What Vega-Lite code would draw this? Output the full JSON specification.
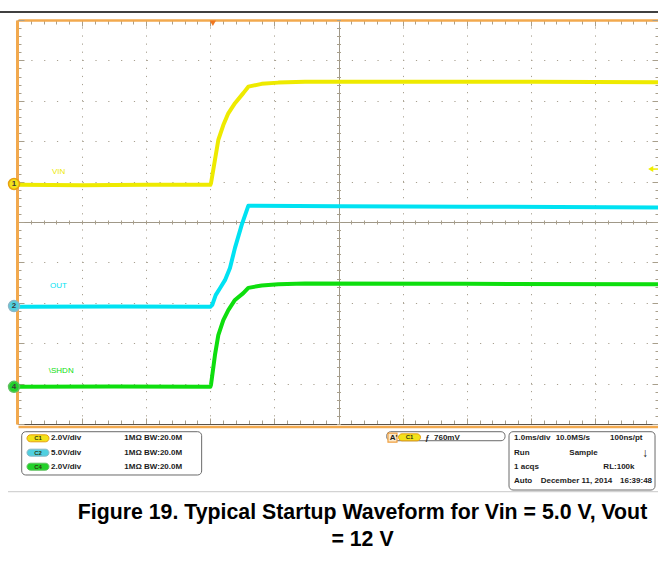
{
  "$schema": "https://vega.github.io/schema/vega-lite/v6.json",
  "width": 641,
  "height": 404,
  "autosize": "none",
  "padding": {"left": 18, "top": 20, "right": 0, "bottom": 138},
  "background": "white",
  "config": {"view": {"stroke": null}, "font": "Liberation Sans"},
  "title": {
    "text": ["Figure 19. Typical Startup Waveform for Vin = 5.0 V, Vout", "= 12 V"],
    "orient": "bottom",
    "anchor": "middle",
    "offset": 10,
    "dx": 24,
    "font": "Liberation Sans",
    "fontSize": 21.3,
    "fontWeight": "bold",
    "color": "#000000",
    "lineHeight": 27
  },
  "datasets": {
    "traces": [
      {"ch": "VIN", "t": -3, "level": 5.92}, {"ch": "VIN", "t": -2, "level": 5.91}, {"ch": "VIN", "t": -1, "level": 5.92},
      {"ch": "VIN", "t": 0, "level": 5.92}, {"ch": "VIN", "t": 0.011, "level": 5.96}, {"ch": "VIN", "t": 0.073, "level": 6.54},
      {"ch": "VIN", "t": 0.125, "level": 7.03}, {"ch": "VIN", "t": 0.203, "level": 7.40}, {"ch": "VIN", "t": 0.281, "level": 7.69},
      {"ch": "VIN", "t": 0.385, "level": 7.94}, {"ch": "VIN", "t": 0.515, "level": 8.19}, {"ch": "VIN", "t": 0.593, "level": 8.35},
      {"ch": "VIN", "t": 0.802, "level": 8.42}, {"ch": "VIN", "t": 1.061, "level": 8.45}, {"ch": "VIN", "t": 1.477, "level": 8.47},
      {"ch": "VIN", "t": 3, "level": 8.47}, {"ch": "VIN", "t": 5, "level": 8.47}, {"ch": "VIN", "t": 7, "level": 8.46},
      {"ch": "OUT", "t": -3, "level": 2.90}, {"ch": "OUT", "t": -1.5, "level": 2.91}, {"ch": "OUT", "t": 0, "level": 2.90},
      {"ch": "OUT", "t": 0.031, "level": 2.95}, {"ch": "OUT", "t": 0.084, "level": 3.19}, {"ch": "OUT", "t": 0.151, "level": 3.36},
      {"ch": "OUT", "t": 0.229, "level": 3.56}, {"ch": "OUT", "t": 0.307, "level": 3.86}, {"ch": "OUT", "t": 0.385, "level": 4.36},
      {"ch": "OUT", "t": 0.49, "level": 4.93}, {"ch": "OUT", "t": 0.593, "level": 5.40}, {"ch": "OUT", "t": 0.65, "level": 5.40},
      {"ch": "OUT", "t": 2, "level": 5.39}, {"ch": "OUT", "t": 4, "level": 5.38}, {"ch": "OUT", "t": 7, "level": 5.36},
      {"ch": "SHDN", "t": -3, "level": 0.92}, {"ch": "SHDN", "t": -1.5, "level": 0.93}, {"ch": "SHDN", "t": 0, "level": 0.92},
      {"ch": "SHDN", "t": 0.011, "level": 0.97}, {"ch": "SHDN", "t": 0.073, "level": 1.71}, {"ch": "SHDN", "t": 0.125, "level": 2.20},
      {"ch": "SHDN", "t": 0.203, "level": 2.57}, {"ch": "SHDN", "t": 0.281, "level": 2.82}, {"ch": "SHDN", "t": 0.385, "level": 3.07},
      {"ch": "SHDN", "t": 0.515, "level": 3.24}, {"ch": "SHDN", "t": 0.593, "level": 3.37}, {"ch": "SHDN", "t": 0.802, "level": 3.43},
      {"ch": "SHDN", "t": 1.061, "level": 3.46}, {"ch": "SHDN", "t": 1.477, "level": 3.48}, {"ch": "SHDN", "t": 4, "level": 3.47},
      {"ch": "SHDN", "t": 7, "level": 3.46}
    ],
    "channels": [
      {"ch": "VIN", "num": "1", "ground": 5.94, "label": "VIN", "lt": -2.47, "ll": 6.24},
      {"ch": "OUT", "num": "2", "ground": 2.92, "label": "OUT", "lt": -2.50, "ll": 3.42},
      {"ch": "SHDN", "num": "4", "ground": 0.92, "label": "\\SHDN", "lt": -2.52, "ll": 1.31}
    ],
    "boxes": [
      {"t1": -2.942, "t2": -0.135, "l1": -0.191, "l2": -1.262},
      {"t1": 2.752, "t2": 4.598, "l1": -0.191, "l2": -0.414},
      {"t1": 4.660, "t2": 6.938, "l1": -0.191, "l2": -1.634}
    ],
    "pills": [
      {"name": "C1", "ch": "VIN", "t": -2.688, "level": -0.354},
      {"name": "C2", "ch": "OUT", "t": -2.688, "level": -0.710},
      {"name": "C4", "ch": "SHDN", "t": -2.688, "level": -1.057},
      {"name": "C1", "ch": "VIN", "t": 3.108, "level": -0.33}
    ],
    "info": [
      {"text": "2.0V/div", "t": -2.485, "level": -0.354},
      {"text": "5.0V/div", "t": -2.485, "level": -0.710},
      {"text": "2.0V/div", "t": -2.485, "level": -1.057},
      {"text": "1MΩ BW:20.0M", "t": -1.342, "level": -0.354},
      {"text": "1MΩ BW:20.0M", "t": -1.342, "level": -0.710},
      {"text": "1MΩ BW:20.0M", "t": -1.342, "level": -1.057},
      {"text": "A'", "t": 2.80, "level": -0.339},
      {"text": "ƒ", "t": 3.349, "level": -0.339},
      {"text": "760mV", "t": 3.49, "level": -0.339},
      {"text": "1.0ms/div", "t": 4.738, "level": -0.354},
      {"text": "10.0MS/s", "t": 5.388, "level": -0.354},
      {"text": "100ns/pt", "t": 6.236, "level": -0.354},
      {"text": "Run", "t": 4.738, "level": -0.725},
      {"text": "Sample", "t": 5.601, "level": -0.725},
      {"text": "1 acqs", "t": 4.738, "level": -1.057},
      {"text": "RL:100k", "t": 6.132, "level": -1.057},
      {"text": "Auto", "t": 4.738, "level": -1.411},
      {"text": "December 11, 2014", "t": 5.154, "level": -1.411},
      {"text": "16:39:48", "t": 6.392, "level": -1.411}
    ]
  },
  "resolve": {"axis": {"x": "independent", "y": "independent"}},
  "layer": [
    {
      "data": {"name": "traces"},
      "mark": {"type": "line", "strokeWidth": 4, "strokeJoin": "round"},
      "encoding": {
        "x": {
          "field": "t", "type": "quantitative",
          "scale": {"domain": [-3, 7], "nice": false, "zero": false},
          "axis": {
            "orient": "top", "title": null, "labels": false, "tickCount": 50,
            "domain": true, "domainColor": "#f2a94e", "domainWidth": 2.5,
            "tickColor": "#a89f8c", "tickWidth": 1,
            "tickSize": {"condition": {"test": "abs(datum.value - round(datum.value)) < 0.01", "value": -6}, "value": -4},
            "grid": true, "gridColor": "#a8a090", "gridWidth": 1, "gridDash": [1.2, 6.88],
            "gridOpacity": {"condition": {"test": "abs(datum.value - round(datum.value)) < 0.01", "value": 1}, "value": 0}
          }
        },
        "y": {
          "field": "level", "type": "quantitative",
          "scale": {"domain": [0, 10], "nice": false, "zero": false},
          "axis": {
            "orient": "left", "offset": 1, "title": null, "labels": false, "tickCount": 50,
            "domain": true, "domainColor": "#f2a94e", "domainWidth": 3,
            "tickColor": "#a89f8c", "tickWidth": 1,
            "tickSize": {"condition": {"test": "abs(datum.value - round(datum.value)) < 0.01", "value": -7}, "value": -4},
            "grid": true, "gridColor": "#a8a090", "gridWidth": 1, "gridDash": [1.2, 11.62],
            "gridOpacity": {"condition": {"test": "abs(datum.value - round(datum.value)) < 0.01", "value": 1}, "value": 0}
          }
        },
        "color": {
          "field": "ch", "type": "nominal",
          "scale": {"domain": ["VIN", "OUT", "SHDN"], "range": ["#eeea00", "#00e2f2", "#0ede0e"]},
          "legend": null
        }
      }
    },
    {
      "data": {"name": "channels"},
      "mark": {"type": "text", "fontSize": 8, "align": "left", "baseline": "middle", "font": "Liberation Sans"},
      "encoding": {
        "x": {
          "field": "lt", "type": "quantitative",
          "axis": {
            "orient": "bottom", "offset": -204, "title": null, "labels": false, "tickCount": 50,
            "domain": false, "tickColor": "#a89f8c", "tickWidth": 1, "tickSize": 4,
            "grid": true, "gridColor": "#a09888", "gridWidth": 1,
            "gridOpacity": {"condition": {"test": "abs(datum.value - 2) < 0.01", "value": 1}, "value": 0}
          }
        },
        "y": {
          "field": "ll", "type": "quantitative",
          "axis": {
            "orient": "left", "offset": -322.5, "title": null, "labels": false, "tickCount": 50,
            "domain": false, "tickColor": "#a89f8c", "tickWidth": 1, "tickSize": 4,
            "grid": true, "gridColor": "#a09888", "gridWidth": 1,
            "gridOpacity": {"condition": {"test": "abs(datum.value - 5) < 0.01", "value": 1}, "value": 0}
          }
        },
        "text": {"field": "label"},
        "color": {"field": "ch", "type": "nominal", "legend": null}
      }
    },
    {
      "data": {"name": "channels"},
      "mark": {"type": "point", "shape": "circle", "filled": true, "size": 120, "strokeWidth": 1.5, "opacity": 1},
      "encoding": {
        "x": {
          "datum": -3.062, "type": "quantitative",
          "axis": {
            "orient": "bottom", "title": null, "labels": false, "tickCount": 50,
            "domain": true, "domainColor": "#5a5248", "domainWidth": 1.2,
            "tickColor": "#a89f8c", "tickWidth": 1,
            "tickSize": {"condition": {"test": "abs(datum.value - round(datum.value)) < 0.01", "value": -6}, "value": -4},
            "grid": false
          }
        },
        "y": {
          "field": "ground", "type": "quantitative",
          "axis": {
            "orient": "right", "title": null, "labels": false, "tickCount": 50,
            "domain": false, "tickColor": "#a89f8c", "tickWidth": 1,
            "tickSize": {"condition": {"test": "abs(datum.value - round(datum.value)) < 0.01", "value": -7}, "value": -4},
            "grid": false
          }
        },
        "fill": {
          "field": "ch", "type": "nominal",
          "scale": {"domain": ["VIN", "OUT", "SHDN"], "range": ["#f2e21a", "#4fd0e0", "#22d22a"]},
          "legend": null
        },
        "stroke": {
          "field": "ch", "type": "nominal",
          "scale": {"domain": ["VIN", "OUT", "SHDN"], "range": ["#e8a010", "#8ab8c8", "#60c060"]},
          "legend": null
        }
      }
    },
    {
      "data": {"name": "channels"},
      "mark": {"type": "text", "fontSize": 8, "fontWeight": "bold", "align": "center", "baseline": "middle", "color": "#3a3a3a"},
      "encoding": {
        "x": {
          "datum": -3.062, "type": "quantitative",
          "axis": {
            "orient": "bottom", "offset": 2.5, "title": null, "labels": false, "ticks": false,
            "domain": true, "domainColor": "#f2a94e", "domainWidth": 2.5, "grid": false
          }
        },
        "y": {"field": "ground", "type": "quantitative", "axis": null},
        "text": {"field": "num"}
      }
    },
    {
      "data": {"values": [{}]},
      "mark": {"type": "point", "shape": "triangle-down", "filled": true, "color": "#f07820", "size": 40, "opacity": 1},
      "encoding": {
        "x": {"datum": 0.04, "type": "quantitative", "axis": null},
        "y": {"datum": 9.92, "type": "quantitative", "axis": null}
      }
    },
    {
      "data": {"values": [{}]},
      "mark": {"type": "point", "shape": "triangle-left", "filled": true, "color": "#f0ee00", "size": 35, "opacity": 1},
      "encoding": {
        "x": {"datum": 6.87, "type": "quantitative", "axis": null},
        "y": {"datum": 6.31, "type": "quantitative", "axis": null}
      }
    },
    {
      "data": {"values": [{}]},
      "mark": {"type": "rule", "color": "#f0ee00", "strokeWidth": 1.5},
      "encoding": {
        "x": {"datum": 6.9, "type": "quantitative", "axis": null},
        "x2": {"datum": 7.0},
        "y": {"datum": 6.31, "type": "quantitative", "axis": null}
      }
    },
    {
      "data": {"values": [{}]},
      "mark": {"type": "rule", "color": "#000000", "strokeWidth": 1.5},
      "encoding": {
        "x": {"datum": -3.281, "type": "quantitative", "axis": null},
        "x2": {"datum": 7.0},
        "y": {"datum": 10.198, "type": "quantitative", "axis": null}
      }
    },
    {
      "data": {"values": [{}]},
      "mark": {"type": "rule", "color": "#c8c8c8", "strokeWidth": 1},
      "encoding": {
        "x": {"datum": -3.156, "type": "quantitative", "axis": null},
        "x2": {"datum": 7.0},
        "y": {"datum": -1.676, "type": "quantitative", "axis": null}
      }
    },
    {
      "data": {"name": "boxes"},
      "mark": {"type": "rect", "fill": "#ffffff", "stroke": "#6a6a6a", "strokeWidth": 1, "cornerRadius": 4},
      "encoding": {
        "x": {"field": "t1", "type": "quantitative", "axis": null},
        "x2": {"field": "t2"},
        "y": {"field": "l1", "type": "quantitative", "axis": null},
        "y2": {"field": "l2"}
      }
    },
    {
      "data": {"values": [{}]},
      "mark": {"type": "point", "shape": "square", "filled": true, "fill": "#fbe9cc", "stroke": "#f0a040", "strokeWidth": 1.2, "size": 81, "opacity": 1},
      "encoding": {
        "x": {"datum": 2.842, "type": "quantitative", "axis": null},
        "y": {"datum": -0.339, "type": "quantitative", "axis": null}
      }
    },
    {
      "data": {"name": "pills"},
      "mark": {
        "type": "point", "filled": true, "size": 484, "strokeWidth": 1, "opacity": 1,
        "shape": "M-0.682,-0.318L0.682,-0.318A0.318,0.318,0,0,1,0.682,0.318L-0.682,0.318A0.318,0.318,0,0,1,-0.682,-0.318Z"
      },
      "encoding": {
        "x": {"field": "t", "type": "quantitative", "axis": null},
        "y": {"field": "level", "type": "quantitative", "axis": null},
        "fill": {"field": "ch", "type": "nominal", "legend": null},
        "stroke": {"field": "ch", "type": "nominal", "legend": null}
      }
    },
    {
      "data": {"name": "pills"},
      "mark": {"type": "text", "fontSize": 6, "fontWeight": "bold", "align": "center", "baseline": "middle", "color": "#2f3a10"},
      "encoding": {
        "x": {"field": "t", "type": "quantitative", "axis": null},
        "y": {"field": "level", "type": "quantitative", "axis": null},
        "text": {"field": "name"}
      }
    },
    {
      "data": {"name": "info"},
      "mark": {"type": "text", "fontSize": 8, "fontWeight": "bold", "align": "left", "baseline": "middle", "color": "#1c1c1c", "font": "Liberation Sans"},
      "encoding": {
        "x": {"field": "t", "type": "quantitative", "axis": null},
        "y": {"field": "level", "type": "quantitative", "axis": null},
        "text": {"field": "text"}
      }
    },
    {
      "data": {"values": [{}]},
      "mark": {"type": "text", "text": "↓", "fontSize": 12, "fontWeight": "bold", "align": "center", "baseline": "middle", "color": "#111111"},
      "encoding": {
        "x": {"datum": 6.78, "type": "quantitative", "axis": null},
        "y": {"datum": -0.73, "type": "quantitative", "axis": null}
      }
    }
  ]
}
